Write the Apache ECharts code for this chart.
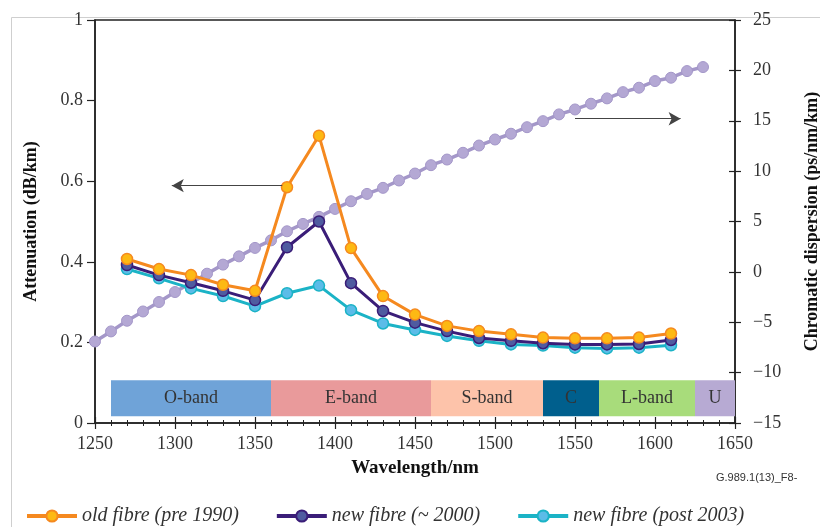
<!DOCTYPE html>
<html><head><meta charset="utf-8">
<script src="https://cdn.jsdelivr.net/npm/echarts@6/dist/echarts.min.js"></script>
<style>html,body{margin:0;padding:0;background:#fff}#c{width:820px;height:527px}</style>
</head><body><div id="c"></div>
<script>
const wavelengths = [1270,1290,1310,1330,1350,1370,1390,1410,1430,1450,1470,1490,1510,1530,1550,1570,1590,1610];
const oldFibre  = [0.407,0.382,0.367,0.343,0.328,0.585,0.713,0.434,0.315,0.269,0.241,0.228,0.220,0.212,0.210,0.210,0.212,0.222];
const newFibre  = [0.392,0.367,0.348,0.328,0.305,0.436,0.500,0.347,0.278,0.249,0.228,0.211,0.204,0.198,0.195,0.195,0.196,0.206];
const postFibre = [0.382,0.359,0.334,0.315,0.290,0.322,0.341,0.280,0.247,0.231,0.216,0.204,0.195,0.192,0.187,0.185,0.187,0.193];
const dispWavelengths = [1250,1260,1270,1280,1290,1300,1310,1320,1330,1340,1350,1360,1370,1380,1390,1400,1410,1420,1430,1440,1450,1460,1470,1480,1490,1500,1510,1520,1530,1540,1550,1560,1570,1580,1590,1600,1610,1620,1630];
const dispersion = [-6.91,-5.91,-4.85,-3.93,-2.99,-2.00,-1.10,-0.18,0.72,1.54,2.38,3.13,4.03,4.76,5.46,6.25,7.01,7.74,8.34,9.07,9.76,10.59,11.15,11.82,12.54,13.14,13.71,14.36,14.96,15.63,16.12,16.69,17.22,17.84,18.28,18.94,19.27,19.93,20.33];
const bandNames = ['O-band','E-band','S-band','C','L-band','U'];
const bandStart = [1260,1360,1460,1530,1565,1625];
const bandEnd   = [1360,1460,1530,1565,1625,1650];
const bandColors = ['#6fa3d8','#e99a9b','#fdc3aa','#005f8d','#a8dc7b','#b7aad3'];
const bandBottom = 0.017, bandTop = 0.106;
const xTicks = [1250,1650,50];
const leftTicks = [0,1,0.2];
const rightTicks = [-15,25,5];
const leftArrow = [[1367,0.589],[1298,0.589]];
const rightArrow = [[1550,15.2],[1616,15.2]];

const serif = '"Liberation Serif","DejaVu Serif",serif';
const pair = (xs, ys) => xs.map((x,i)=>[x, ys[i]]);
const minus = v => String(v).replace('-', '\u2212');

const chart = echarts.init(document.getElementById('c'));
chart.setOption({
  animation:false,
  backgroundColor:'#fff',
  graphic:[
    {type:'rect', left:9, top:15, shape:{width:900,height:600}, style:{fill:'none',stroke:'#cfcfcf',lineWidth:1}, z:-10},
    {type:'text', left:716, top:472, style:{text:'G.989.1(13)_F8-', font:'11px "Liberation Sans", Arial, sans-serif', fill:'#333'}}
  ],
  grid:{left:95,right:85,top:20,bottom:104,show:true,borderColor:'#222',borderWidth:1.5,backgroundColor:'transparent',
        containLabel:false, outerBoundsMode:'none'},
  legend:{
    data:['old fibre (pre 1990)','new fibre (~ 2000)','new fibre (post 2003)'],
    left:20, top:501, itemWidth:50, itemHeight:14, itemGap:36,
    lineStyle:{width:4},
    textStyle:{fontFamily:serif, fontStyle:'italic', fontSize:20, color:'#333'}
  },
  xAxis:[
    {type:'value', min:xTicks[0], max:xTicks[1], interval:xTicks[2], position:'bottom',
     name:'Wavelength/nm', nameLocation:'middle', nameGap:36,
     nameTextStyle:{fontFamily:serif, fontWeight:'bold', fontSize:19, color:'#111'},
     axisLine:{show:true, onZero:false, lineStyle:{color:'#222',width:1.5}},
     axisTick:{show:true, inside:false, length:6, lineStyle:{color:'#222',width:1.2}},
     minorTick:{show:true, splitNumber:5, length:3, lineStyle:{color:'#222',width:1}},
     axisLabel:{margin:12, fontFamily:serif, fontSize:18, color:'#333', formatter:v=>String(v)},
     splitLine:{show:false}},
    {type:'value', min:xTicks[0], max:xTicks[1], interval:xTicks[2], position:'bottom',
     axisLine:{show:false, onZero:false},
     axisTick:{show:true, inside:true, length:6, lineStyle:{color:'#222',width:1.2}},
     minorTick:{show:true, splitNumber:5, length:3, lineStyle:{color:'#222',width:1}},
     axisLabel:{show:false}, splitLine:{show:false}}
  ],
  yAxis:[
    {type:'value', min:leftTicks[0], max:leftTicks[1], interval:leftTicks[2], position:'left',
     name:'Attenuation (dB/km)', nameLocation:'middle', nameGap:55,
     nameTextStyle:{fontFamily:serif, fontWeight:'bold', fontSize:18, color:'#111'},
     axisLine:{show:true, onZero:false, lineStyle:{color:'#222',width:1.5}},
     axisTick:{show:true, inside:false, length:8, lineStyle:{color:'#222',width:1.2}},
     axisLabel:{margin:12, fontFamily:serif, fontSize:18, color:'#333'},
     splitLine:{show:false}},
    {type:'value', min:rightTicks[0], max:rightTicks[1], interval:rightTicks[2], position:'right',
     name:'Chromatic dispersion (ps/nm/km)', nameLocation:'middle', nameGap:68,
     nameTextStyle:{fontFamily:serif, fontWeight:'bold', fontSize:18, color:'#111'},
     axisLine:{show:true, onZero:false, lineStyle:{color:'#222',width:1.5}},
     axisTick:{show:true, inside:false, length:6, lineStyle:{color:'#222',width:1.2}},
     axisLabel:{margin:18, fontFamily:serif, fontSize:18, color:'#333', formatter:minus},
     splitLine:{show:false}},
    {type:'value', min:rightTicks[0], max:rightTicks[1], interval:rightTicks[2], position:'right',
     axisLine:{show:false, onZero:false},
     axisTick:{show:true, inside:true, length:6, lineStyle:{color:'#222',width:1.2}},
     axisLabel:{show:false}, splitLine:{show:false}}
  ],
  series:[
    {type:'line', name:'bands', xAxisIndex:0, yAxisIndex:0, data:[], silent:true,
     markArea:{silent:true,
       label:{show:true, position:'inside', fontFamily:serif, fontSize:18, color:'#333'},
       data: bandNames.map((n,i)=>[
         {name:n, xAxis:bandStart[i], yAxis:bandBottom, itemStyle:{color:bandColors[i], opacity:1}},
         {xAxis:bandEnd[i], yAxis:bandTop}
       ])}
    },
    {type:'line', name:'dispersion', xAxisIndex:0, yAxisIndex:1, data:pair(dispWavelengths, dispersion),
     symbol:'circle', symbolSize:11, z:1,
     lineStyle:{color:'#a497c9', width:3.5},
     itemStyle:{color:'#b4a8d4', borderColor:'#a497c9', borderWidth:1},
     markLine:{silent:true, symbol:['none','arrow'], symbolSize:[10,12],
       lineStyle:{color:'#444', width:1, type:'solid'}, itemStyle:{color:'#111'}, label:{show:false},
       data:[[{coord:rightArrow[0]},{coord:rightArrow[1]}]]}
    },
    {type:'line', name:'old fibre (pre 1990)', xAxisIndex:0, yAxisIndex:0, data:pair(wavelengths, oldFibre),
     symbol:'circle', symbolSize:11, z:4,
     lineStyle:{color:'#f5891f', width:3},
     itemStyle:{color:'#fdb913', borderColor:'#f5891f', borderWidth:1.5},
     markLine:{silent:true, symbol:['none','arrow'], symbolSize:[10,12],
       lineStyle:{color:'#444', width:1, type:'solid'}, itemStyle:{color:'#111'}, label:{show:false},
       data:[[{coord:leftArrow[0]},{coord:leftArrow[1]}]]}
    },
    {type:'line', name:'new fibre (~ 2000)', xAxisIndex:0, yAxisIndex:0, data:pair(wavelengths, newFibre),
     symbol:'circle', symbolSize:11, z:3,
     lineStyle:{color:'#3a1d78', width:3},
     itemStyle:{color:'#4f5ba0', borderColor:'#3a1d78', borderWidth:1.5}},
    {type:'line', name:'new fibre (post 2003)', xAxisIndex:0, yAxisIndex:0, data:pair(wavelengths, postFibre),
     symbol:'circle', symbolSize:11, z:2,
     lineStyle:{color:'#1bb3c6', width:3},
     itemStyle:{color:'#5bbce8', borderColor:'#1bb3c6', borderWidth:1.5}}
  ]
});
</script></body></html>
